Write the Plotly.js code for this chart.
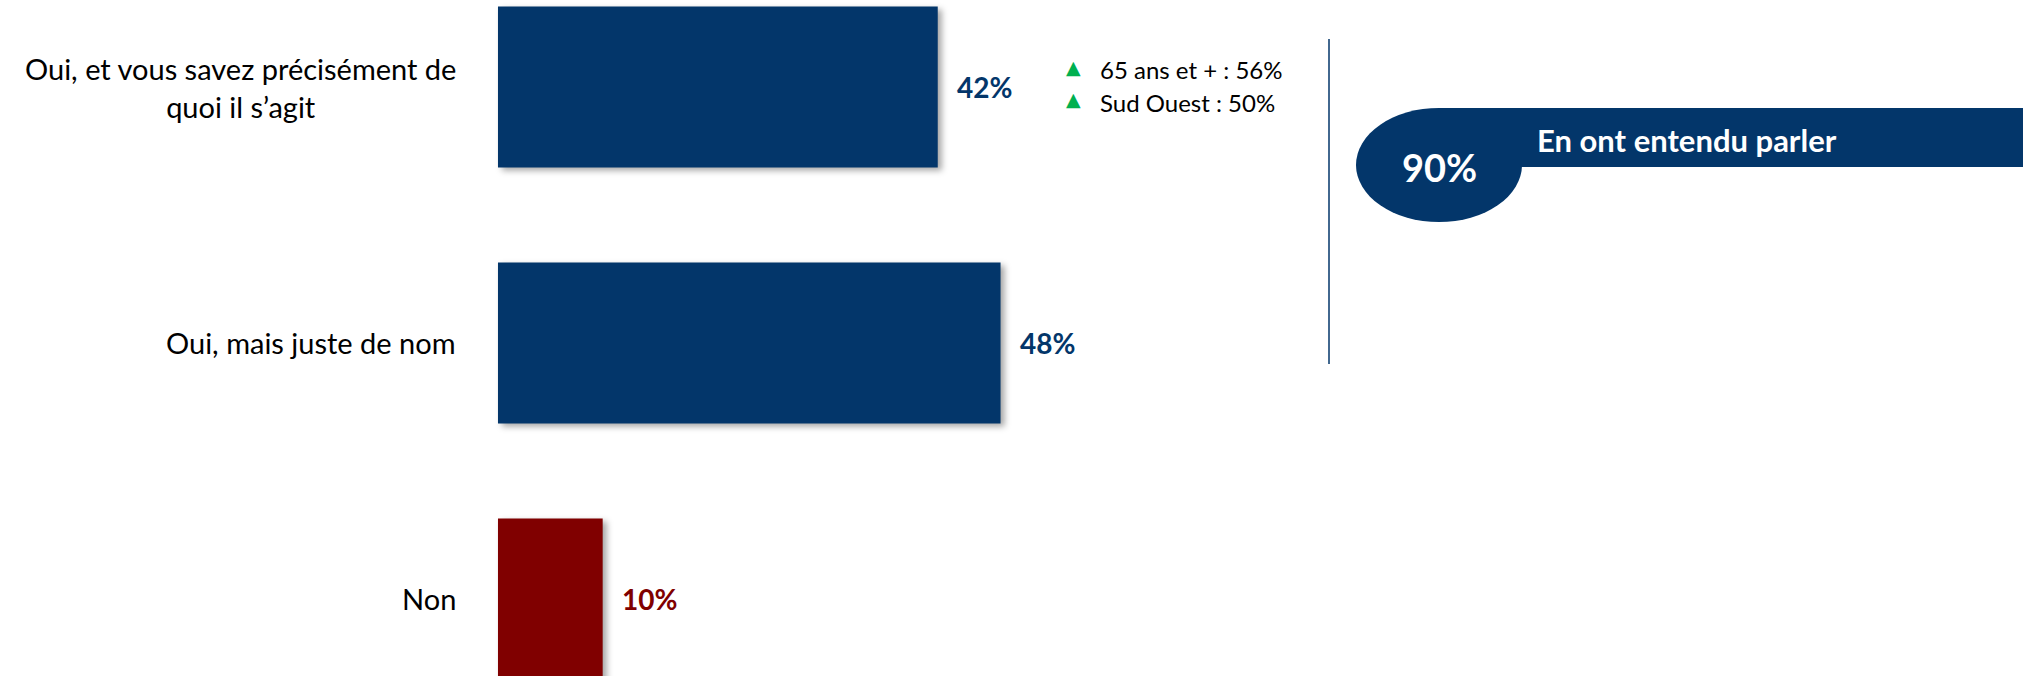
<!DOCTYPE html>
<html>
<head>
<meta charset="utf-8">
<script src="https://cdn.plot.ly/plotly-3.0.1.min.js"></script>
<style>
html,body{margin:0;padding:0;background:#fff;}
#chart{width:2023px;height:676px;}
.bars .point path{filter:drop-shadow(4px 3px 3px rgba(0,0,0,0.35));}
</style>
</head>
<body>
<div id="chart"></div>
<script>
// ---- data ----
const categories = ["Oui, et vous savez précisément de<br>quoi il s’agit", "Oui, mais juste de nom", "Non"];
const values = [42, 48, 10];
const valueLabels = ["42%", "48%", "10%"];
const subgroupLabels = ["65 ans et + : 56%", "Sud Ouest : 50%"];
const totalLabel = "90%";
const totalText = "En ont entendu parler";

// ---- styles ----
const NAVY = "#03366A";
const RED = "#800000";
const GREEN = "#00B050";
const barColors = [NAVY, NAVY, RED];
const W = 2023, H = 676;
const px = v => v / W;
const py = v => 1 - v / H;

const trace = {
  type: "bar",
  orientation: "h",
  x: values,
  y: categories,
  marker: {color: barColors, line: {width: 0}},
  hoverinfo: "skip",
  showlegend: false
};

const annotations = [];
// category labels
categories.forEach((c, i) => {
  annotations.push({
    xref: "paper", yref: "y", x: px(458), y: c,
    xanchor: "right", yanchor: "middle", align: "center",
    text: c, showarrow: false,
    font: {family: "Lato", size: 29, color: "#000"}
  });
});
// value labels
values.forEach((v, i) => {
  annotations.push({
    xref: "x", yref: "y", x: v, y: categories[i],
    xanchor: "left", yanchor: "middle", xshift: 17,
    text: valueLabels[i], showarrow: false,
    font: {family: "Lato", size: 28, weight: "bold", color: barColors[i]}
  });
});
// subgroup highlights
const subY = [70, 102];
subgroupLabels.forEach((s, i) => {
  annotations.push({
    xref: "paper", yref: "paper", x: px(1073), y: py(subY[i] - 3),
    xanchor: "center", yanchor: "middle",
    text: "▲", showarrow: false,
    font: {family: "DejaVu Sans", size: 19, color: GREEN}
  });
  annotations.push({
    xref: "paper", yref: "paper", x: px(1098), y: py(subY[i]),
    xanchor: "left", yanchor: "middle",
    text: s, showarrow: false,
    font: {family: "Lato", size: 24, color: "#000"}
  });
});
// total badge
annotations.push({
  xref: "paper", yref: "paper", x: px(1439), y: py(167),
  xanchor: "center", yanchor: "middle",
  text: totalLabel, showarrow: false,
  font: {family: "Lato", size: 38, weight: "bold", color: "#fff"}
});
annotations.push({
  xref: "paper", yref: "paper", x: px(1535), y: py(140),
  xanchor: "left", yanchor: "middle",
  text: totalText, showarrow: false,
  font: {family: "Lato", size: 31, weight: "bold", color: "#fff"}
});

const shapes = [
  {type: "line", xref: "paper", yref: "paper", x0: px(1329), x1: px(1329), y0: py(39), y1: py(364),
   line: {color: NAVY, width: 1.5}},
  {type: "circle", xref: "paper", yref: "paper", x0: px(1356), x1: px(1522), y0: py(222), y1: py(108),
   fillcolor: NAVY, line: {width: 0}},
  {type: "rect", xref: "paper", yref: "paper", x0: px(1439), x1: px(1522), y0: py(166), y1: py(108),
   fillcolor: NAVY, line: {width: 0}},
  {type: "rect", xref: "paper", yref: "paper", x0: px(1520), x1: 1, y0: py(167), y1: py(108),
   fillcolor: NAVY, line: {width: 0}}
];

const layout = {
  width: W, height: H,
  margin: {l: 0, r: 0, t: 0, b: 0, pad: 0},
  paper_bgcolor: "#fff", plot_bgcolor: "#fff",
  font: {family: "Lato"},
  bargap: 0.371,
  xaxis: {range: [-47.56, 145.65], visible: false, fixedrange: true},
  yaxis: {type: "category", range: [2.301, -0.340], visible: false, fixedrange: true},
  annotations: annotations,
  shapes: shapes,
  showlegend: false
};

Plotly.newPlot("chart", [trace], layout, {displayModeBar: false, staticPlot: true});
</script>
</body>
</html>
